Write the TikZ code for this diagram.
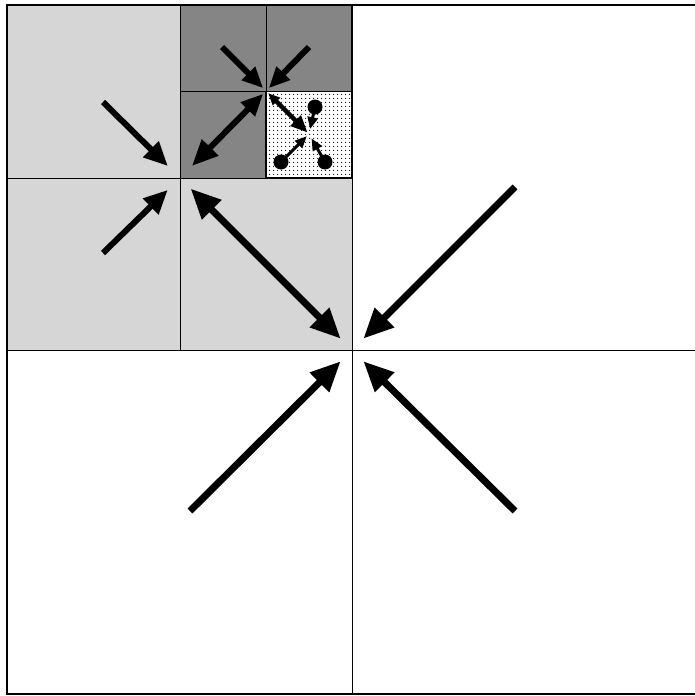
\documentclass[tikz,border=0pt]{standalone}
\usetikzlibrary{arrows.meta,patterns.meta}
\tikzdeclarepattern{
  name=sparsedots, type=uncolored,
  bounding box={(0pt,0pt) and (4pt,4pt)},
  tile size={(4pt,4pt)},
  code={\fill (2pt,2pt) circle (0.7pt);}
}
\begin{document}
\begin{tikzpicture}[x=1pt,y=-1pt,
  lvzero/.style={line width=7pt, {Triangle[length=30pt,width=26pt]}-{Triangle[length=30pt,width=26pt]}},
  lvzeroone/.style={line width=7pt, -{Triangle[length=30pt,width=26pt]}},
  lvonetwo/.style={line width=6pt, {Triangle[length=22pt,width=19pt]}-{Triangle[length=26pt,width=22pt]}},
  lvone/.style={line width=6pt, -{Triangle[length=24pt,width=21pt]}},
  lvtwo/.style={line width=6pt, -{Triangle[length=21pt,width=18pt]}},
  lvtwothree/.style={line width=4.5pt, {Triangle[length=17pt,width=14pt]}-{Triangle[length=12pt,width=10pt]}},
  lvthree/.style={line width=3pt, -{Triangle[length=12pt,width=10pt]}},
  thinline/.style={line width=1pt},
  frame/.style={line width=2pt}]
\useasboundingbox (0,0) rectangle (695,696);
% fills
\fill[black!16] (7,5) rectangle (352,350);
\fill[black!48] (180,5) rectangle (352,178);
\fill[white] (266,91) rectangle (352,178);
\fill[pattern=sparsedots, pattern color=black] (266,91) rectangle (352,178);
% grid lines
\draw[thinline] (352,5) -- (352,694);
\draw[line width=2pt] (352,5) -- (352,178);
\draw[thinline] (7,350) -- (697,350);
\draw[thinline] (180,5) -- (180,350);
\draw[thinline] (7,178) -- (352,178);
\draw[thinline] (266,5) -- (266,178);
\draw[thinline] (180,91) -- (352,91);
\draw[line width=1.6pt] (266,91) -- (266,178) -- (352,178);
% frame
\draw[frame] (7,5) rectangle (697,694);
% centres
\coordinate (c0) at (352,350);
\coordinate (c1) at (180,178);
\coordinate (c2) at (266,91);
\coordinate (c3) at (309,134);
% tails
\coordinate (t0a) at (515,187);
\coordinate (t0b) at (190,511);
\coordinate (t0c) at (515,511);
\coordinate (t1a) at (103,102);
\coordinate (t1b) at (103,253);
\coordinate (t2a) at (222,47);
\coordinate (t2b) at (309,47);
\coordinate (d1) at (315,107);
\coordinate (d2) at (281,162);
\coordinate (d3) at (325,162);
% level 0
\draw[lvzeroone, shorten >=16pt] (t0a) -- (c0);
\draw[lvzeroone, shorten >=16pt] (t0b) -- (c0);
\draw[lvzeroone, shorten >=16pt] (t0c) -- (c0);
\draw[lvzero, shorten >=16pt, shorten <=15pt] (c1) -- (c0);
% level 1
\draw[lvone, shorten >=17pt] (t1a) -- (c1);
\draw[lvone, shorten >=17pt] (t1b) -- (c1);
\draw[lvonetwo, shorten >=17pt, shorten <=4pt] (c2) -- (c1);
% level 2
\draw[lvtwo, shorten >=4pt] (t2a) -- (c2);
\draw[lvtwo, shorten >=4pt] (t2b) -- (c2);
\draw[lvtwothree, shorten <=2pt, shorten >=3pt] (c3) -- (c2);
% level 3
\fill (d1) circle (7.5pt);
\fill (d2) circle (7.5pt);
\fill (d3) circle (7.5pt);
\draw[lvthree, shorten >=5pt] (d1) -- (c3);
\draw[lvthree, shorten >=3pt] (d2) -- (c3);
\draw[lvthree, shorten >=5pt] (d3) -- (c3);
\end{tikzpicture}
\end{document}
